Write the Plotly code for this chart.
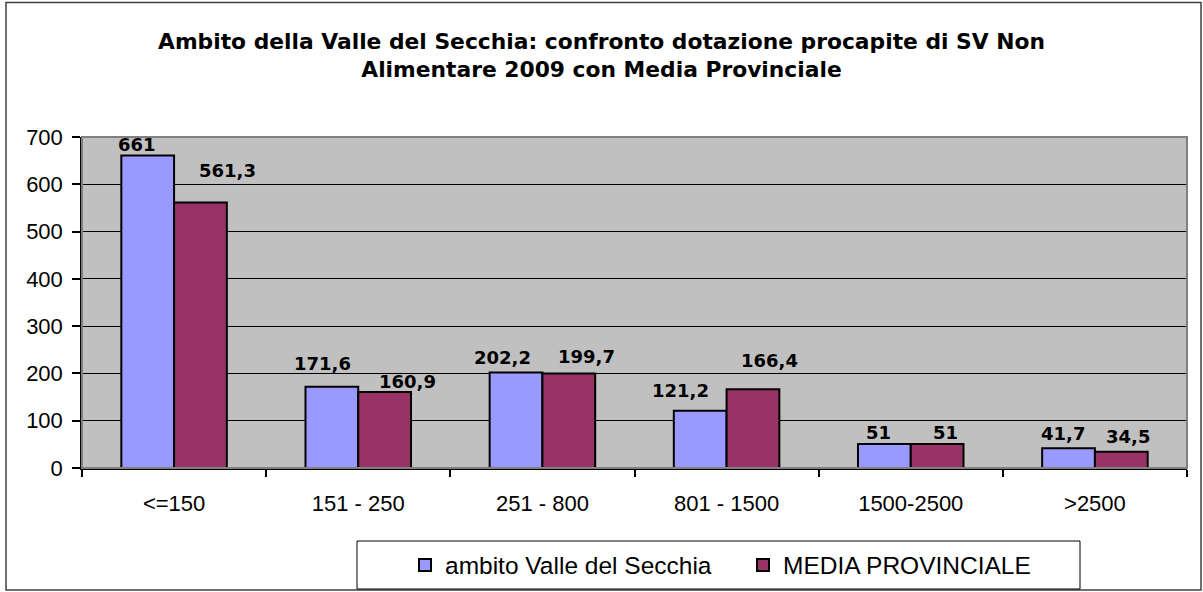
import plotly.graph_objects as go

# ---- data ----
categories = ["<=150", "151 - 250", "251 - 800", "801 - 1500", "1500-2500", ">2500"]
valle_secchia = [661, 171.6, 202.2, 121.2, 51, 41.7]
media_provinciale = [561.3, 160.9, 199.7, 166.4, 51, 34.5]
series_names = ["ambito Valle del Secchia", "MEDIA PROVINCIALE"]
title_text = ("Ambito della Valle del Secchia: confronto dotazione procapite di SV Non"
              "<br>Alimentare 2009 con Media Provinciale")

# ---- style ----
W, H = 1203, 592
ML, MR, MT, MB = 82, 16, 137, 124
BARGAP = 0.427
colors = ["#9999FF", "#993366"]
# label placement tweaks (pixels, relative to bar centre / bar top)
lab_dx = [[-11, -9, -14, -20, -6, -6], [27, 23, 18, 17, 8, 7]]
lab_dy = [[11, 23, 15, 20, 11, 15], [32, 10, 17, 29, 11, 15]]
SANS = "Liberation Sans, Arial, sans-serif"

plot_w = W - ML - MR
plot_h = H - MT - MB
cat_w = plot_w / len(categories)
bar_off = cat_w * (1 - BARGAP) / 4


def px_x(p):
    return (p - ML) / plot_w


def px_y(p):
    return (H - MB - p) / plot_h


fig = go.Figure()
for name, vals, col in zip(series_names, [valle_secchia, media_provinciale], colors):
    fig.add_trace(go.Bar(
        x=categories, y=vals, name=name,
        marker=dict(color=col, line=dict(color="#000000", width=2)),
    ))

annotations = []
for s, vals in enumerate([valle_secchia, media_provinciale]):
    sign = -1 if s == 0 else 1
    for i, (c, v) in enumerate(zip(categories, vals)):
        annotations.append(dict(
            x=c, y=v, xref="x", yref="y",
            text=f"{v:g}".replace(".", ","),
            showarrow=False,
            xanchor="center", yanchor="middle",
            xshift=sign * bar_off + lab_dx[s][i],
            yshift=lab_dy[s][i],
            font=dict(family="DejaVu Sans", size=18, color="#000000", weight="bold"),
        ))

shapes = [
    # outer chart border
    dict(type="rect", xref="paper", yref="paper",
         x0=px_x(6), x1=px_x(1201), y0=px_y(590), y1=px_y(2.5),
         line=dict(color="#404040", width=1.5), fillcolor="rgba(0,0,0,0)", layer="below"),
    # plot area border
    dict(type="rect", xref="paper", yref="paper", x0=0, x1=1, y0=0, y1=1,
         line=dict(color="#808080", width=2), fillcolor="rgba(0,0,0,0)", layer="above"),
    # legend box
    dict(type="rect", xref="paper", yref="paper",
         x0=px_x(357), x1=px_x(1080), y0=px_y(589), y1=px_y(541),
         line=dict(color="#000000", width=1), fillcolor="#FFFFFF", layer="below"),
]

fig.update_layout(
    width=W, height=H,
    margin=dict(l=ML, r=MR, t=MT, b=MB, autoexpand=False),
    paper_bgcolor="#FFFFFF",
    plot_bgcolor="#C0C0C0",
    barmode="group", bargap=BARGAP, bargroupgap=0,
    title=dict(text=title_text, x=0.5, xref="container", xanchor="center",
               y=1 - 49 / H, yref="container", yanchor="middle",
               font=dict(family="DejaVu Sans", size=21.8, color="#000000", weight="bold")),
    font=dict(family=SANS, color="#000000"),
    showlegend=True,
    legend=dict(orientation="h", x=px_x(405), xanchor="left",
                y=px_y(565), yanchor="middle",
                bgcolor="rgba(0,0,0,0)", borderwidth=0,
                entrywidth=293, entrywidthmode="pixels",
                font=dict(family=SANS, size=24.5, color="#000000")),
    annotations=annotations,
    shapes=shapes,
)
fig.update_xaxes(
    type="category", showline=True, linecolor="#000000", linewidth=1.5,
    ticks="outside", tickson="boundaries", ticklen=7, tickcolor="#000000", tickwidth=1.5,
    ticklabelstandoff=15, showgrid=False,
    tickfont=dict(size=22, family=SANS, color="#000000"),
)
fig.update_yaxes(
    range=[0, 700], dtick=100, tick0=0,
    showline=True, linecolor="#000000", linewidth=1.5,
    ticks="outside", ticklen=8, tickcolor="#000000", tickwidth=1.5,
    ticklabelstandoff=5,
    showgrid=True, gridcolor="#000000", gridwidth=1, zeroline=False,
    tickfont=dict(size=22, family=SANS, color="#000000"),
)

fig.write_html("out.html",
               config={"displayModeBar": False},
               post_script="document.body.style.margin='0px';document.body.style.padding='0px';")
